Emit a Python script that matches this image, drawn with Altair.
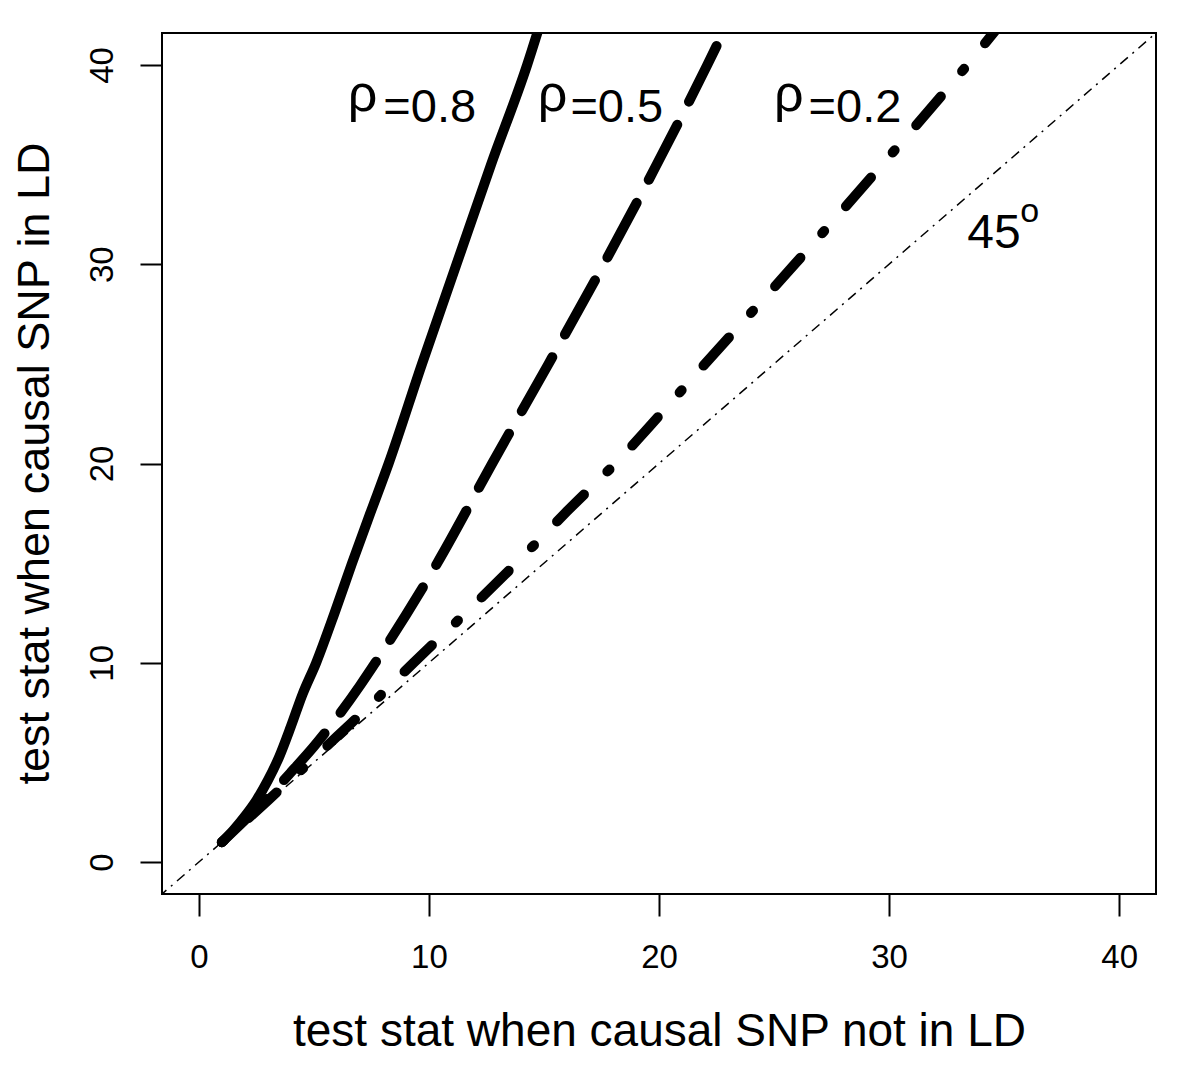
import altair as alt
import pandas as pd

# ---- data ----
x_r08 = [1.0, 1.5, 2.0, 2.5, 3.0, 3.5, 4.0, 4.5, 5.1, 5.9, 6.66, 7.45, 8.25, 9.7, 11.2, 12.7, 14.27, 14.9]
y_r08 = [1.0, 1.6, 2.3, 3.1, 4.1, 5.3, 6.8, 8.4, 10.0, 12.5, 15.0, 17.5, 20.0, 25.0, 30.0, 35.0, 40.0, 42.3]

x_r05 = [1.0, 2.0, 3.0, 4.0, 5.0, 6.0, 7.0, 7.67, 9.0, 10.36, 12.75, 15.2, 17.6, 19.9, 22.1, 22.9]
y_r05 = [1.0, 2.1, 3.25, 4.5, 5.8, 7.25, 8.85, 10.0, 12.4, 15.0, 20.0, 25.0, 30.0, 35.0, 40.0, 41.9]

x_r02 = [1.0, 2.0, 3.0, 4.0, 5.0, 6.0, 7.3, 9.33, 11.6, 13.8, 16.0, 18.1, 22.0, 25.9, 29.7, 33.4, 34.6]
y_r02 = [1.0, 2.04, 3.09, 4.16, 5.2, 6.3, 7.7, 10.0, 12.5, 15.0, 17.6, 20.0, 25.0, 30.0, 35.0, 40.0, 41.7]

x_diag = [-2.0, 42.0]
y_diag = [-2.0, 42.0]

tick_values = [0, 10, 20, 30, 40]

label_texts = ["=0.8", "=0.5", "=0.2"]
label_x = [8.02, 16.15, 26.5]
rho_x = [7.76, 16.02, 26.28]
label_y = [37.13, 37.13, 37.13]

deg_text = ["45"]
deg_x = [33.4]
deg_y = [30.8]
sup_text = ["o"]
sup_x = [35.7]
sup_y = [32.1]

# ---- build tables ----
def series(name, xs, ys):
    return pd.DataFrame({"series": name, "x": xs, "y": ys, "order": range(len(xs))})

df = pd.concat([
    series("r08", x_r08, y_r08),
    series("r05", x_r05, y_r05),
    series("r02", x_r02, y_r02),
    series("diag", x_diag, y_diag),
], ignore_index=True)

labels_df = pd.DataFrame({"text": label_texts, "x": label_x, "y": label_y, "rx": rho_x})
deg_df = pd.DataFrame({"text": deg_text, "x": deg_x, "y": deg_y})
sup_df = pd.DataFrame({"text": sup_text, "x": sup_x, "y": sup_y})

DOM = [-1.6, 41.6]
FONT = "Liberation Sans, Arial, sans-serif"
TICKFONT = "Liberation Sans Narrow, Arial Narrow, Liberation Sans, sans-serif"

xscale = alt.Scale(domain=DOM, nice=False, zero=False)
yscale = alt.Scale(domain=DOM, nice=False, zero=False)

x_axis = alt.Axis(
    values=tick_values, title="test stat when causal SNP not in LD",
    domain=False, grid=False, ticks=True, tickSize=22, tickWidth=2, tickColor="black",
    labelFont=TICKFONT, labelFontSize=33, labelColor="black", labelPadding=51,
    labelBaseline="alphabetic", labelOverlap=False, labelFlush=False,
    titleFont=FONT, titleFontSize=46, titleFontWeight="normal", titleColor="black",
    titleBaseline="alphabetic", titleY=151, titleX=497,
)
y_axis = alt.Axis(
    values=tick_values, title="test stat when causal SNP in LD",
    domain=False, grid=False, ticks=True, tickSize=22, tickWidth=2, tickColor="black",
    labelFont=TICKFONT, labelFontSize=33, labelColor="black", labelPadding=28,
    labelAngle=270, labelAlign="center", labelBaseline="alphabetic",
    labelOverlap=False, labelFlush=False,
    titleFont=FONT, titleFontSize=45, titleFontWeight="normal", titleColor="black",
    titleAngle=270, titleAlign="center", titleBaseline="alphabetic",
    titleX=-114, titleY=430,
)

X = lambda f: alt.X(f, scale=xscale, axis=x_axis)
Y = lambda f: alt.Y(f, scale=yscale, axis=y_axis)

base = alt.Chart(df)

def line_layer(name, width, dash=None, cap="round", interp="monotone"):
    kw = dict(color="black", strokeWidth=width, strokeCap=cap, clip=True, interpolate=interp)
    if dash:
        kw["strokeDash"] = dash
    return base.transform_filter(alt.datum.series == name).mark_line(**kw).encode(
        x=X("x:Q"), y=Y("y:Q"), order=alt.Order("order:Q"),
    )

diag = line_layer("diag", 1.5, dash=[2, 6, 10, 6], cap="butt", interp="linear")
l08 = line_layer("r08", 10)
l05 = line_layer("r05", 10, dash=[62, 26])
l02 = line_layer("r02", 10, dash=[3, 33, 38, 33])

txt = alt.Chart(labels_df).mark_text(
    font=FONT, fontSize=47, color="black", align="left", baseline="alphabetic"
).encode(x=X("x:Q"), y=Y("y:Q"), text="text:N")

rho = alt.Chart(labels_df).mark_text(
    font=FONT, fontSize=52, color="black", align="right", baseline="alphabetic", dy=-11
).encode(x=X("rx:Q"), y=Y("y:Q"), text=alt.value("ρ"))

deg = alt.Chart(deg_df).mark_text(
    font=FONT, fontSize=48, color="black", align="left", baseline="alphabetic"
).encode(x=X("x:Q"), y=Y("y:Q"), text="text:N")

sup = alt.Chart(sup_df).mark_text(
    font=FONT, fontSize=34, color="black", align="left", baseline="alphabetic"
).encode(x=X("x:Q"), y=Y("y:Q"), text="text:N")

chart = alt.layer(diag, l08, l05, l02, txt, rho, deg, sup).properties(
    width=994, height=861,
    autosize=alt.AutoSizeParams(type="none"),
    padding={"left": 154, "top": 25, "right": 30, "bottom": 170},
    background="white",
).configure_view(stroke="black", strokeWidth=2)

chart.save("out.html", embed_options={"renderer": "svg", "actions": False})
